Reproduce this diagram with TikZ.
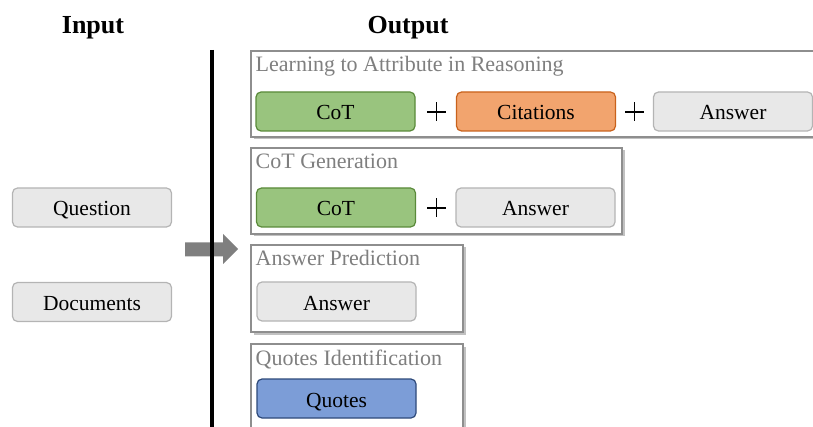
\documentclass[tikz,border=0pt]{standalone}
\usepackage{fontspec}
\setmainfont{Liberation Serif}
\usetikzlibrary{shadows}

\definecolor{boxgray}{HTML}{8E8E8E}
\definecolor{titlegray}{HTML}{7F7F7F}
\definecolor{pillgray}{HTML}{E8E8E8}
\definecolor{pillgrayline}{HTML}{B4B4B4}
\definecolor{cotfill}{HTML}{99C47E}
\definecolor{cotline}{HTML}{5A8A3A}
\definecolor{citefill}{HTML}{F2A46E}
\definecolor{citeline}{HTML}{C9621C}
\definecolor{quotefill}{HTML}{7C9DD7}
\definecolor{quoteline}{HTML}{2E4A7A}
\definecolor{arrowgray}{HTML}{7F7F7F}

\tikzset{
  heading/.style={inner sep=0pt, anchor=base, font=\rmfamily\fontsize{26}{28}\selectfont\bfseries},
  taskbox/.style={draw=boxgray, line width=2pt, fill=white, anchor=north west, inner sep=0pt,
    drop shadow={shadow xshift=2.5pt, shadow yshift=-2.5pt, opacity=0.35, fill=black!70}},
  tasktitle/.style={anchor=base west, inner sep=0pt, text=titlegray,
    font=\rmfamily\fontsize{22}{24}\selectfont},
  pill/.style={rounded corners=5pt, minimum width=159pt, minimum height=39pt, inner sep=0pt,
    text height=17pt, text depth=0pt, line width=1.2pt,
    font=\rmfamily\fontsize{21.5}{24}\selectfont},
  plainpill/.style={pill, draw=pillgrayline, fill=pillgray},
  cotpill/.style={pill, draw=cotline, fill=cotfill},
  citepill/.style={pill, draw=citeline, fill=citefill},
  quotepill/.style={pill, draw=quoteline, fill=quotefill},
  plussign/.style={inner sep=0pt, minimum size=19pt,
    path picture={\draw[line width=1.4pt]
      (path picture bounding box.north) -- (path picture bounding box.south)
      (path picture bounding box.west) -- (path picture bounding box.east);}},
}

\begin{document}
\begin{tikzpicture}[x=1pt, y=-1pt]
  \useasboundingbox (0,0) rectangle (813,427);
  \clip (0,0) rectangle (813,427);

  % column headings
  \node[heading] (inhead)  at (93,33.5)  {Input};
  \node[heading] (outhead) at (408,33.5) {Output};

  % inputs
  \node[plainpill] (question)  at (92,207.5) {Question};
  \node[plainpill] (documents) at (92,302)   {Documents};

  % block arrow from inputs to outputs
  \fill[arrowgray] (185,242.5) -- (223,242.5) -- (223,234) -- (238,249)
    -- (223,264) -- (223,256.5) -- (185,256.5) -- cycle;

  % divider
  \draw[line width=4pt] (212,50) -- (212,427);

  % task 1: learning to attribute in reasoning
  \node[taskbox, minimum width=600pt, minimum height=86pt] (attr) at (250,50) {};
  \node[tasktitle] (attrtitle) at (255.5,71.5) {Learning to Attribute in Reasoning};
  \node[cotpill]   (attrcot)  at (335.5,111.5) {CoT};
  \node[plussign]  (attrplusa) at (436.5,112) {};
  \node[citepill]  (attrcite) at (536,111.5) {Citations};
  \node[plussign]  (attrplusb) at (634.5,112) {};
  \node[plainpill] (attrans)  at (733,111.5) {Answer};

  % task 2: CoT generation
  \node[taskbox, minimum width=371pt, minimum height=86pt] (cotgen) at (250,147) {};
  \node[tasktitle] (cotgentitle) at (255.5,168.5) {CoT Generation};
  \node[cotpill]   (cotgencot) at (336,207.5) {CoT};
  \node[plussign]  (cotgenplus) at (436.5,208) {};
  \node[plainpill] (cotgenans) at (535.5,207.5) {Answer};

  % task 3: answer prediction
  \node[taskbox, minimum width=212pt, minimum height=87pt] (anspred) at (250,244) {};
  \node[tasktitle] (anspredtitle) at (255.5,266) {Answer Prediction};
  \node[plainpill] (anspredans) at (336.5,301.5) {Answer};

  % task 4: quotes identification
  \node[taskbox, minimum width=212pt, minimum height=110pt] (quoteid) at (250,343) {};
  \node[tasktitle] (quoteidtitle) at (255.5,365) {Quotes Identification};
  \node[quotepill] (quoteidq) at (336.5,398.5) {Quotes};
\end{tikzpicture}
\end{document}
